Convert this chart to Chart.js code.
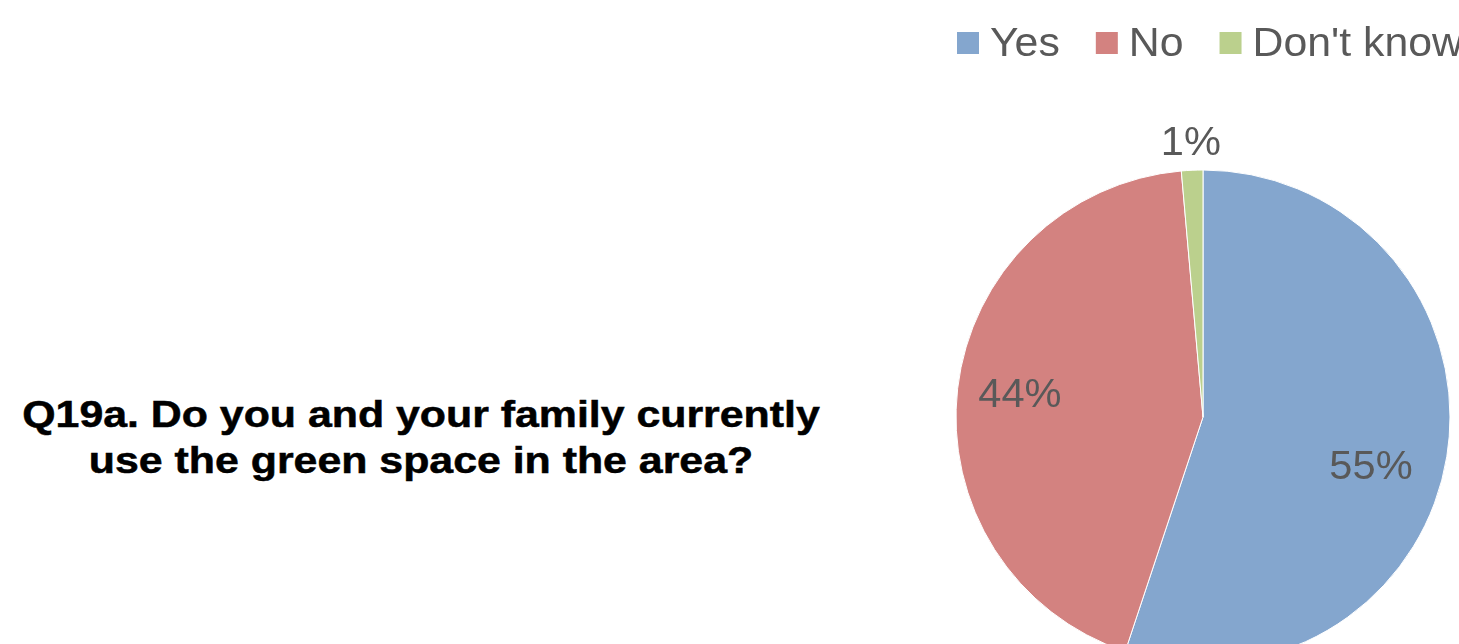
<!DOCTYPE html>
<html>
<head>
<meta charset="utf-8">
<script src="https://cdn.jsdelivr.net/npm/chart.js@4/dist/chart.umd.min.js"></script>
<style>
    body{
        margin: 0;
        background: #ffffff;
        overflow: hidden;
        width: 1459px;
        height: 644px;
        position: relative;
    }
    #canva1{
        position: absolute;
        left: 0;
        top: 0;
    }
    .titulo{
        position: absolute;
        left: 0;
        top: 392px;
        width: 842px;
        text-align: center;
        font-family: "Liberation Sans", Arial, sans-serif;
        font-weight: bold;
        font-size: 36px;
        line-height: 46px;
        color: #000000;
        -webkit-text-stroke: 0.5px #000000;
        transform: scaleX(1.19);
        transform-origin: 421px 0;
        white-space: nowrap;
    }
</style>
</head>
<body>
<div class="titulo">Q19a. Do you and your family currently<br>use the green space in the area?</div>
<canvas id="canva1" width="1459" height="644"></canvas>
<script>
let categorias = ["Yes", "No", "Don't know"];
let porcentajes = [55.1, 43.5, 1.4];
let colores = ["rgb(132, 166, 206)", "rgb(211, 130, 128)", "rgb(187, 208, 141)"];

// etiquetas de porcentaje sobre cada porcion
let etiquetasPlugin = {
    id: "etiquetas",
    afterDatasetsDraw(chart, args, opts){
        let ctx = chart.ctx;
        let meta = chart.getDatasetMeta(0);
        ctx.save();
        ctx.font = "40px 'Liberation Sans', Arial, sans-serif";
        ctx.fillStyle = "#595959";
        ctx.textAlign = "center";
        ctx.textBaseline = "middle";
        meta.data.forEach(function(arco, i){
            let p = arco.getProps(["x", "y", "startAngle", "endAngle", "outerRadius"], true);
            let medio = (p.startAngle + p.endAngle) / 2;
            let pequeno = (p.endAngle - p.startAngle) < 0.2;
            let dist = pequeno ? p.outerRadius + 29 : p.outerRadius * 0.73;
            let nudge = opts.nudge[i] || [0, 0];
            let x = p.x + Math.cos(medio) * dist + nudge[0];
            let y = p.y + Math.sin(medio) * dist + nudge[1];
            let valor = chart.data.datasets[0].data[i];
            ctx.save();
            ctx.translate(x, y);
            ctx.scale(1.04, 1);
            ctx.fillText(Math.round(valor) + "%", 0, 0);
            ctx.restore();
        });
        ctx.restore();
    }
};

// leyenda arriba a la derecha
let leyendaPlugin = {
    id: "leyenda",
    afterDraw(chart, args, opts){
        let ctx = chart.ctx;
        let colorsDs = chart.data.datasets[0].backgroundColor;
        ctx.save();
        ctx.font = "40px 'Liberation Sans', Arial, sans-serif";
        ctx.textBaseline = "alphabetic";
        ctx.textAlign = "left";
        let x = opts.x;
        let escala = 1.07;
        chart.data.labels.forEach(function(nombre, i){
            ctx.fillStyle = colorsDs[i];
            ctx.fillRect(x, opts.y, 22, 22);
            ctx.fillStyle = "#595959";
            ctx.save();
            ctx.translate(x + 33, opts.y + 24);
            ctx.scale(escala, 1);
            ctx.fillText(nombre, 0, 0);
            ctx.restore();
            x += 33 + ctx.measureText(nombre).width * escala + 36;
        });
        ctx.restore();
    }
};

window.onload = function(){
    let canva1 = document.getElementById("canva1").getContext("2d");
    let graficoCirculo = new Chart(canva1, {
        type: "pie",
        data:{
            labels: categorias,
            datasets:[{
                label: "Q19a",
                data: porcentajes,
                backgroundColor: colores,
                borderColor: "#ffffff",
                borderWidth: 1,
                radius: 247
            }]
        },
        options:{
            responsive: false,
            animation: false,
            layout: {
                padding: {left: 947, right: 0, top: 190, bottom: 0}
            },
            plugins: {
                legend: {display: false},
                tooltip: {enabled: false},
                etiquetas: {nudge: [[-10, 22], [-4, 0], [0, 3]]},
                leyenda: {x: 957, y: 32}
            }
        },
        plugins: [etiquetasPlugin, leyendaPlugin]
    });
}
</script>
</body>
</html>
